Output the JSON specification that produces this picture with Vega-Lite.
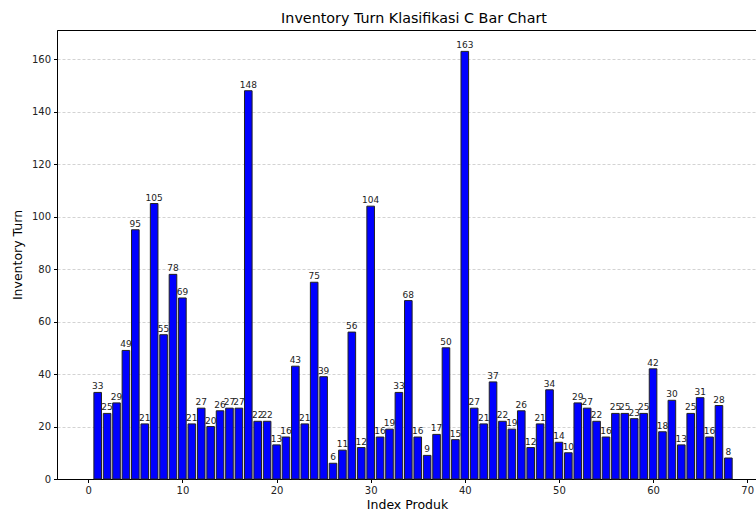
{
  "$schema": "https://vega.github.io/schema/vega-lite/v6.json",
  "autosize": {"type": "none"},
  "width": 700,
  "height": 449,
  "padding": {"left": 57, "top": 30, "right": 0, "bottom": 32},
  "background": "white",
  "config": {
    "font": "DejaVu Sans",
    "view": {"stroke": "#000", "strokeWidth": 1},
    "axis": {"labelFont": "DejaVu Sans", "titleFont": "DejaVu Sans", "labelFontSize": 10, "labelColor": "#222", "titleColor": "#000", "titleFontWeight": "normal", "titleFontSize": 12.5, "tickColor": "#000", "domainColor": "#000", "tickSize": 3.5}
  },
  "title": {"text": "Inventory Turn Klasifikasi C Bar Chart", "font": "DejaVu Sans", "fontSize": 14.3, "fontWeight": "normal", "color": "#000", "offset": 4, "dx": 7},
  "data": {"values": [
    {"i":1,"v":33},{"i":2,"v":25},{"i":3,"v":29},{"i":4,"v":49},{"i":5,"v":95},{"i":6,"v":21},{"i":7,"v":105},{"i":8,"v":55},{"i":9,"v":78},{"i":10,"v":69},
    {"i":11,"v":21},{"i":12,"v":27},{"i":13,"v":20},{"i":14,"v":26},{"i":15,"v":27},{"i":16,"v":27},{"i":17,"v":148},{"i":18,"v":22},{"i":19,"v":22},{"i":20,"v":13},
    {"i":21,"v":16},{"i":22,"v":43},{"i":23,"v":21},{"i":24,"v":75},{"i":25,"v":39},{"i":26,"v":6},{"i":27,"v":11},{"i":28,"v":56},{"i":29,"v":12},{"i":30,"v":104},
    {"i":31,"v":16},{"i":32,"v":19},{"i":33,"v":33},{"i":34,"v":68},{"i":35,"v":16},{"i":36,"v":9},{"i":37,"v":17},{"i":38,"v":50},{"i":39,"v":15},{"i":40,"v":163},
    {"i":41,"v":27},{"i":42,"v":21},{"i":43,"v":37},{"i":44,"v":22},{"i":45,"v":19},{"i":46,"v":26},{"i":47,"v":12},{"i":48,"v":21},{"i":49,"v":34},{"i":50,"v":14},
    {"i":51,"v":10},{"i":52,"v":29},{"i":53,"v":27},{"i":54,"v":22},{"i":55,"v":16},{"i":56,"v":25},{"i":57,"v":25},{"i":58,"v":23},{"i":59,"v":25},{"i":60,"v":42},
    {"i":61,"v":18},{"i":62,"v":30},{"i":63,"v":13},{"i":64,"v":25},{"i":65,"v":31},{"i":66,"v":16},{"i":67,"v":28},{"i":68,"v":8}
  ]},
  "encoding": {
    "x": {"field": "i", "type": "quantitative", "scale": {"domain": [-2.79, 70.51], "nice": false, "zero": false},
          "axis": {"title": "Index Produk", "values": [0,10,20,30,40,50,60,70], "grid": false, "labelFlush": false, "titlePadding": 3, "labelPadding": 3}},
    "y": {"field": "v", "type": "quantitative", "scale": {"domain": [0, 171.15], "nice": false},
          "axis": {"title": "Inventory Turn", "values": [0,20,40,60,80,100,120,140,160], "grid": true, "gridColor": "#c8c8c8", "gridDash": [3,2], "gridWidth": 0.8, "titlePadding": 7, "labelPadding": 3}}
  },
  "layer": [
    {"mark": {"type": "bar", "size": 7.6, "color": "blue", "stroke": "#222", "strokeWidth": 1}},
    {"mark": {"type": "text", "baseline": "bottom", "dy": -1, "fontSize": 9, "color": "#222", "font": "DejaVu Sans"},
     "encoding": {"text": {"field": "v", "type": "quantitative"}}}
  ]
}
